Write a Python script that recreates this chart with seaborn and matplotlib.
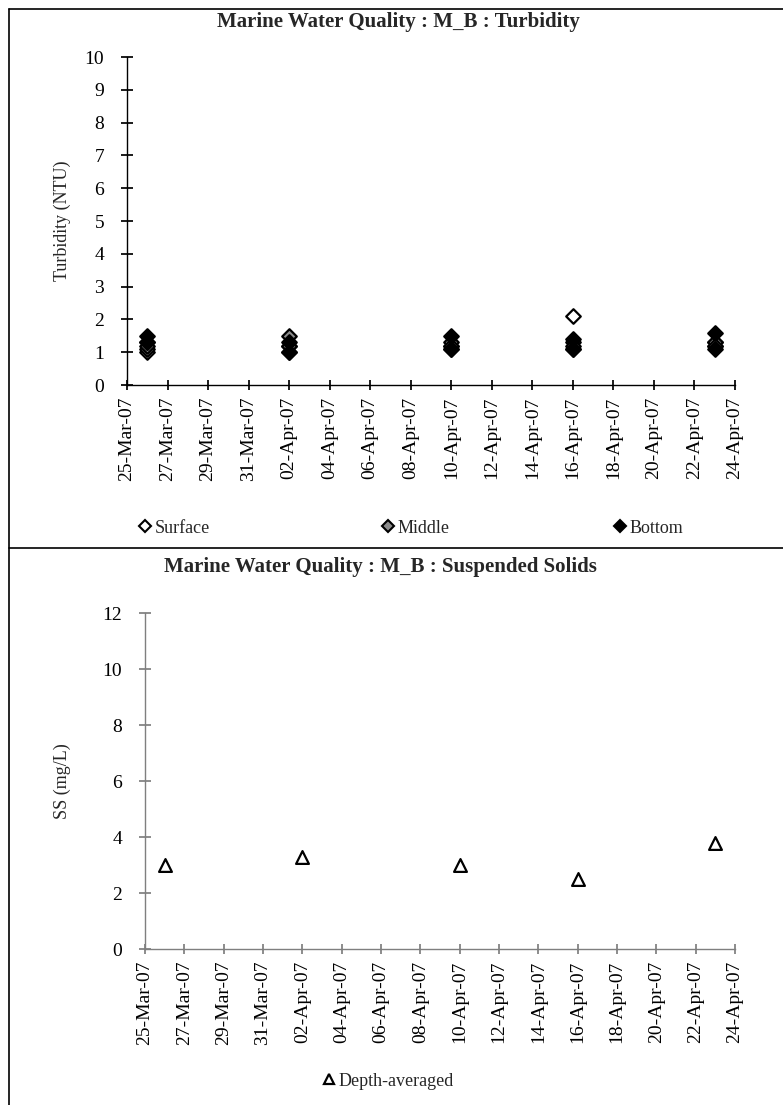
import numpy as np
import pandas as pd
import matplotlib
matplotlib.use("Agg")
import matplotlib.pyplot as plt
import matplotlib.dates as mdates
from matplotlib.lines import Line2D
import seaborn as sns

# ---------------- data ----------------
dates = ["2007-03-26", "2007-04-02", "2007-04-10", "2007-04-16", "2007-04-23"]
surface_ebb = [1.0, 1.0, 1.1, 2.1, 1.3]
surface_flood = [1.1, 1.2, 1.2, 1.1, 1.2]
middle_ebb = [1.2, 1.5, 1.3, 1.3, 1.3]
middle_flood = [1.3, 1.2, 1.2, 1.2, 1.2]
bottom_ebb = [1.5, 1.3, 1.5, 1.4, 1.6]
bottom_flood = [1.3, 1.0, 1.1, 1.1, 1.1]
ss_depth_avg = [3.0, 3.3, 3.0, 2.5, 3.8]

title_turb = "Marine Water Quality : M_B : Turbidity"
title_ss = "Marine Water Quality : M_B : Suspended Solids"

sns.set_theme(style="white")
plt.rcParams["font.family"] = ["Liberation Serif", "DejaVu Serif"]
plt.rcParams["font.size"] = 12

W, H = 783, 1105
fig = plt.figure(figsize=(W / 100, H / 100), dpi=100)

def fx(px):
    return px / W

def fy(py):
    return 1 - py / H

d = pd.to_datetime(dates)
def frame(a, b):
    return pd.DataFrame({"date": list(d) + list(d), "value": list(a) + list(b)})

df_s = frame(surface_ebb, surface_flood)
df_m = frame(middle_ebb, middle_flood)
df_b = frame(bottom_ebb, bottom_flood)
df_ss = pd.DataFrame({"date": d, "value": ss_depth_avg})

xmin, xmax = pd.Timestamp("2007-03-25"), pd.Timestamp("2007-04-24")
ticks = pd.date_range(xmin, xmax, freq="2D")

TICK_FS = 14

def style_axes(ax, spine_color):
    for s in ["top", "right"]:
        ax.spines[s].set_visible(False)
    for s in ["left", "bottom"]:
        ax.spines[s].set_color(spine_color)
        ax.spines[s].set_linewidth(1.0)
    ax.set_xlim(xmin, xmax)
    ax.set_xticks(ticks)
    ax.xaxis.set_major_formatter(mdates.DateFormatter("%d-%b-%y"))
    ax.tick_params(axis="x", rotation=90, direction="inout", length=7,
                   color=spine_color, labelsize=TICK_FS, pad=5, bottom=True)
    ax.tick_params(axis="y", direction="inout", length=9, color=spine_color,
                   labelsize=TICK_FS, pad=12, left=True)
    ax.set_xlabel("")
    ax.set_ylabel("")
    ax.grid(False)
    for lab in ax.get_xticklabels() + ax.get_yticklabels():
        lab.set_color("black")

# ---------------- top chart ----------------
ax1 = fig.add_axes([fx(127), fy(385), fx(735) - fx(127), fy(57) - fy(385)])
ms = 55
sns.scatterplot(data=df_s, x="date", y="value", marker="D", s=ms, color="white",
                edgecolor="black", linewidth=1.6, ax=ax1, zorder=3)
sns.scatterplot(data=df_m, x="date", y="value", marker="D", s=ms, color="#8c8c8c",
                edgecolor="black", linewidth=1.6, ax=ax1, zorder=4)
sns.scatterplot(data=df_b, x="date", y="value", marker="D", s=ms, color="black",
                edgecolor="black", linewidth=1.6, ax=ax1, zorder=5)
ax1.set_ylim(0, 10)
ax1.set_yticks(range(0, 11))
style_axes(ax1, "black")
for c in ax1.collections:
    c.set_clip_on(False)

fig.text(fx(398), fy(22), title_turb, ha="center", va="center",
         fontsize=15, fontweight="bold")
fig.text(fx(62), fy(221), "Turbidity (NTU)", ha="center", va="center",
         rotation=90, fontsize=13)

leg_items = [("Surface", "white", 140), ("Middle", "#8c8c8c", 383), ("Bottom", "black", 615)]
for name, col, xpx in leg_items:
    h = Line2D([], [], marker="D", linestyle="none", markersize=6.5,
               markerfacecolor=col, markeredgecolor="black", markeredgewidth=1.5)
    fig.legend(handles=[h], labels=[name], loc="center left",
               bbox_to_anchor=(fx(xpx), fy(528)), frameon=False, fontsize=13,
               handlelength=0.6, handletextpad=0.2, borderpad=0, borderaxespad=0)

# ---------------- bottom chart ----------------
ax2 = fig.add_axes([fx(145), fy(949), fx(735) - fx(145), fy(613) - fy(949)])
sns.scatterplot(data=df_ss, x="date", y="value", marker="^", s=85, color="white",
                edgecolor="black", linewidth=1.6, ax=ax2, zorder=3)
ax2.set_ylim(0, 12)
ax2.set_yticks(range(0, 13, 2))
style_axes(ax2, "#7f7f7f")
for c in ax2.collections:
    c.set_clip_on(False)

fig.text(fx(380), fy(567), title_ss, ha="center", va="center",
         fontsize=15, fontweight="bold")
fig.text(fx(62), fy(781), "SS (mg/L)", ha="center", va="center",
         rotation=90, fontsize=13)

h = Line2D([], [], marker="^", linestyle="none", markersize=7.5,
           markerfacecolor="white", markeredgecolor="black", markeredgewidth=1.6)
fig.legend(handles=[h], labels=["Depth-averaged"], loc="center left",
           bbox_to_anchor=(fx(324), fy(1081)), frameon=False, fontsize=13,
           handlelength=0.6, handletextpad=0.2, borderpad=0, borderaxespad=0)

# ---------------- outer frame ----------------
lw = 1.2
fig.add_artist(Line2D([fx(9), 1], [fy(9), fy(9)], color="black", lw=lw))
fig.add_artist(Line2D([fx(9), fx(9)], [0, fy(9)], color="black", lw=lw))
fig.add_artist(Line2D([fx(9), 1], [fy(548), fy(548)], color="black", lw=lw))

fig.savefig("out.png", dpi=100)
